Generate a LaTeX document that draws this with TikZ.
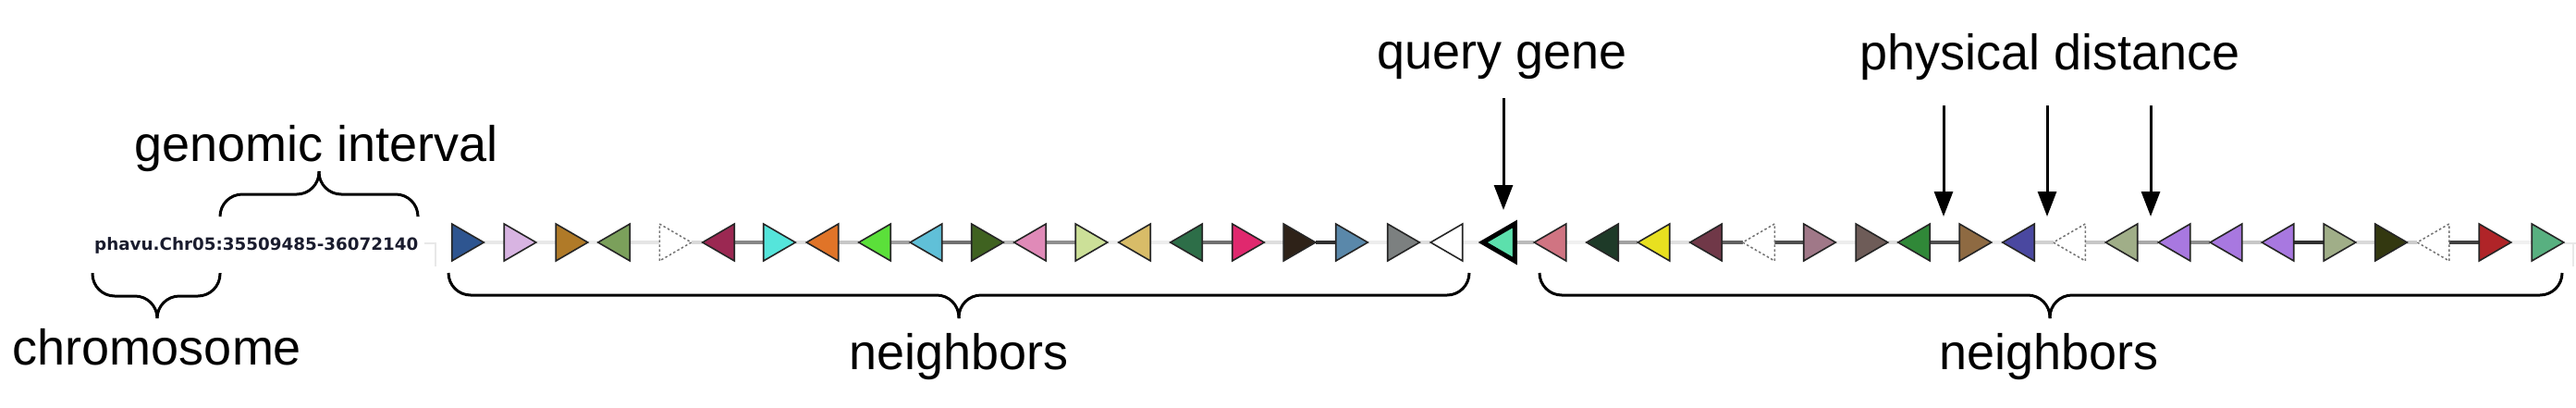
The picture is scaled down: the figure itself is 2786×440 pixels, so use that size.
\documentclass[tikz,border=0pt]{standalone}
\usepackage{fontspec}
\setmainfont{Liberation Sans}
\newfontfamily\coordfont{DejaVu Sans}
\usetikzlibrary{arrows.meta}
\definecolor{ca}{HTML}{2E5590}
\definecolor{cb}{HTML}{D8B4E2}
\definecolor{cc}{HTML}{B07A28}
\definecolor{cd}{HTML}{7BA05B}
\definecolor{cf}{HTML}{9B2852}
\definecolor{cg}{HTML}{55E5DB}
\definecolor{ch}{HTML}{E07428}
\definecolor{ci}{HTML}{5BE03A}
\definecolor{cj}{HTML}{60C0D8}
\definecolor{ck}{HTML}{3F6220}
\definecolor{cl}{HTML}{E08AB8}
\definecolor{cm}{HTML}{CCE098}
\definecolor{cn}{HTML}{D8BC68}
\definecolor{co}{HTML}{2D6E48}
\definecolor{cp}{HTML}{E0286E}
\definecolor{cq}{HTML}{2E2218}
\definecolor{cr}{HTML}{5A88AA}
\definecolor{cs}{HTML}{7C8080}
\definecolor{qc}{HTML}{5CE0AC}
\definecolor{du}{HTML}{D07482}
\definecolor{dv}{HTML}{1E3A28}
\definecolor{dw}{HTML}{E8E020}
\definecolor{dx}{HTML}{703848}
\definecolor{dz}{HTML}{A07888}
\definecolor{ea}{HTML}{6E5C58}
\definecolor{eb}{HTML}{308838}
\definecolor{ec}{HTML}{8E6A42}
\definecolor{ed}{HTML}{4A48A0}
\definecolor{ef}{HTML}{A0AE88}
\definecolor{eg}{HTML}{A878E0}
\definecolor{eh}{HTML}{333810}
\definecolor{ei}{HTML}{B02428}
\definecolor{ej}{HTML}{58B080}
\definecolor{coordtext}{HTML}{1A1C2E}
\newcommand\gslot[2]{\node[slot] (#1) at (#2,262) {};}
\newcommand\geneR[2]{\filldraw[gene, fill=#2] (#1.north west) -- (#1.east) -- (#1.south west) -- cycle;}
\newcommand\geneL[2]{\filldraw[gene, fill=#2] (#1.north east) -- (#1.west) -- (#1.south east) -- cycle;}
\newcommand\ghostR[1]{\draw[ghost] (#1.north west) -- (#1.east) -- (#1.south west) -- cycle;}
\newcommand\ghostL[1]{\draw[ghost] (#1.north east) -- (#1.west) -- (#1.south east) -- cycle;}
\newcommand\lnk[3]{\draw[link, draw=black!#3] (#1.east) -- (#2.west);}
\tikzset{
  slot/.style={rectangle, minimum width=34.5pt, minimum height=40pt, inner sep=0pt, outer sep=0pt},
  gene/.style={draw=black!85, line width=1.6pt, line join=miter},
  ghost/.style={draw=black!55, line width=1.5pt, dash pattern=on 2.5pt off 2.5pt, fill=white},
  link/.style={line width=3.5pt},
  brace/.style={line width=3pt, rounded corners=24pt},
  pointer/.style={line width=3pt, -{Triangle[length=27pt,width=20pt]}},
  label/.style={font=\fontsize{54}{60}\selectfont, inner sep=0pt, anchor=base},
}
\begin{document}
\begin{tikzpicture}[x=1pt,y=-1pt]
\useasboundingbox (0,0) rectangle (2786,440);
% gene slots
\gslot{g1}{506}\gslot{g2}{562.5}\gslot{g3}{618.5}\gslot{g4}{664}\gslot{g5}{730.5}
\gslot{g6}{777}\gslot{g7}{843}\gslot{g8}{889.5}\gslot{g9}{946}\gslot{g10}{1001.5}
\gslot{g11}{1068}\gslot{g12}{1114}\gslot{g13}{1180.5}\gslot{g14}{1227}\gslot{g15}{1283}
\gslot{g16}{1350}\gslot{g17}{1405.5}\gslot{g18}{1462}\gslot{g19}{1518}\gslot{g20}{1564.5}
\gslot{q}{1621}
\gslot{g21}{1676.5}\gslot{g22}{1733}\gslot{g23}{1788.5}\gslot{g24}{1845}\gslot{g25}{1902}
\gslot{g26}{1968}\gslot{g27}{2024.5}\gslot{g28}{2070}\gslot{g29}{2136.5}\gslot{g30}{2183}
\gslot{g31}{2238}\gslot{g32}{2294.5}\gslot{g33}{2351.5}\gslot{g34}{2407.5}\gslot{g35}{2463.5}
\gslot{g36}{2530.5}\gslot{g37}{2586}\gslot{g38}{2631.5}\gslot{g39}{2698.5}\gslot{g40}{2755.5}
% connectors
\lnk{g1}{g2}{9}\lnk{g2}{g3}{9}\lnk{g3}{g4}{7}\lnk{g4}{g5}{10}\lnk{g5}{g6}{15}
\lnk{g6}{g7}{47}\lnk{g7}{g8}{13}\lnk{g8}{g9}{22}\lnk{g9}{g10}{37}\lnk{g10}{g11}{56}
\lnk{g11}{g12}{27}\lnk{g12}{g13}{44}\lnk{g13}{g14}{7}\lnk{g14}{g15}{7}\lnk{g15}{g16}{56}
\lnk{g16}{g17}{13}\lnk{g17}{g18}{81}\lnk{g18}{g19}{7}\lnk{g19}{g20}{13}\lnk{g20}{q}{7}
\lnk{q}{g21}{27}\lnk{g21}{g22}{6}\lnk{g22}{g23}{37}\lnk{g23}{g24}{12}\lnk{g24}{g25}{62}
\lnk{g25}{g26}{69}\lnk{g26}{g27}{7}\lnk{g27}{g28}{13}\lnk{g28}{g29}{69}\lnk{g29}{g30}{7}
\lnk{g30}{g31}{18}\lnk{g31}{g32}{22}\lnk{g32}{g33}{34}\lnk{g33}{g34}{44}\lnk{g34}{g35}{22}
\lnk{g35}{g36}{81}\lnk{g36}{g37}{15}\lnk{g37}{g38}{20}\lnk{g38}{g39}{75}\lnk{g39}{g40}{6}
% faint end marks
\draw[line width=1.5pt, black!9] (459,263) -- (471,263) -- (471,288);
\draw[line width=1.5pt, black!9] (2773,263) -- (2786,263) (2783,263) -- (2783,288);
% genes
\geneR{g1}{ca}\geneR{g2}{cb}\geneR{g3}{cc}\geneL{g4}{cd}\ghostR{g5}
\geneL{g6}{cf}\geneR{g7}{cg}\geneL{g8}{ch}\geneL{g9}{ci}\geneL{g10}{cj}
\geneR{g11}{ck}\geneL{g12}{cl}\geneR{g13}{cm}\geneL{g14}{cn}\geneL{g15}{co}
\geneR{g16}{cp}\geneR{g17}{cq}\geneR{g18}{cr}\geneR{g19}{cs}\geneL{g20}{white}
\filldraw[draw=black, line width=5pt, line join=miter, fill=qc] (q.north east) -- (q.west) -- (q.south east) -- cycle;
\geneL{g21}{du}\geneL{g22}{dv}\geneL{g23}{dw}\geneL{g24}{dx}\ghostL{g25}
\geneR{g26}{dz}\geneR{g27}{ea}\geneL{g28}{eb}\geneR{g29}{ec}\geneL{g30}{ed}
\ghostL{g31}\geneL{g32}{ef}\geneL{g33}{eg}\geneL{g34}{eg}\geneL{g35}{eg}
\geneR{g36}{ef}\geneR{g37}{eh}\ghostL{g38}\geneR{g39}{ei}\geneR{g40}{ej}
% coordinate text
\node[inner sep=0pt, anchor=base west, text=coordtext, font=\coordfont\bfseries\fontsize{18.3}{20}\selectfont] (coord) at (102,270) {phavu.Chr05:35509485-36072140};
% labels
\node[label] (lint) at (342,174) {genomic interval};
\node[label] (lchr) at (170,394) {chromosome};
\node[label] (lnbl) at (1037,399) {neighbors};
\node[label] (lnbr) at (2216,399) {neighbors};
\node[label] (lq) at (1625,74) {query gene};
\node[label] (lpd) at (2217,75) {physical distance};
% braces
\draw[brace] (238,233) -- (238,210) -- (345,210) -- (345,185);
\draw[brace] (452,233) -- (452,210) -- (345,210) -- (345,185);
\draw[brace] (100,295) -- (100,320) -- (170,320) -- (170,344);
\draw[brace] (238,295) -- (238,320) -- (170,320) -- (170,344);
\draw[brace] (485,295) -- (485,319) -- (1037,319) -- (1037,344);
\draw[brace] (1589,295) -- (1589,319) -- (1037,319) -- (1037,344);
\draw[brace] (1665,295) -- (1665,319) -- (2217,319) -- (2217,344);
\draw[brace] (2771,295) -- (2771,319) -- (2217,319) -- (2217,344);
% arrows
\coordinate (qa) at (1626,106); \coordinate (qb) at (1626,227);
\draw[pointer] (qa) -- (qb);
\coordinate (pa1) at (2102,114); \coordinate (pb1) at (2102,234);
\coordinate (pa2) at (2214,114); \coordinate (pb2) at (2214,234);
\coordinate (pa3) at (2326,114); \coordinate (pb3) at (2326,234);
\draw[pointer] (pa1) -- (pb1);
\draw[pointer] (pa2) -- (pb2);
\draw[pointer] (pa3) -- (pb3);
\end{tikzpicture}
\end{document}
